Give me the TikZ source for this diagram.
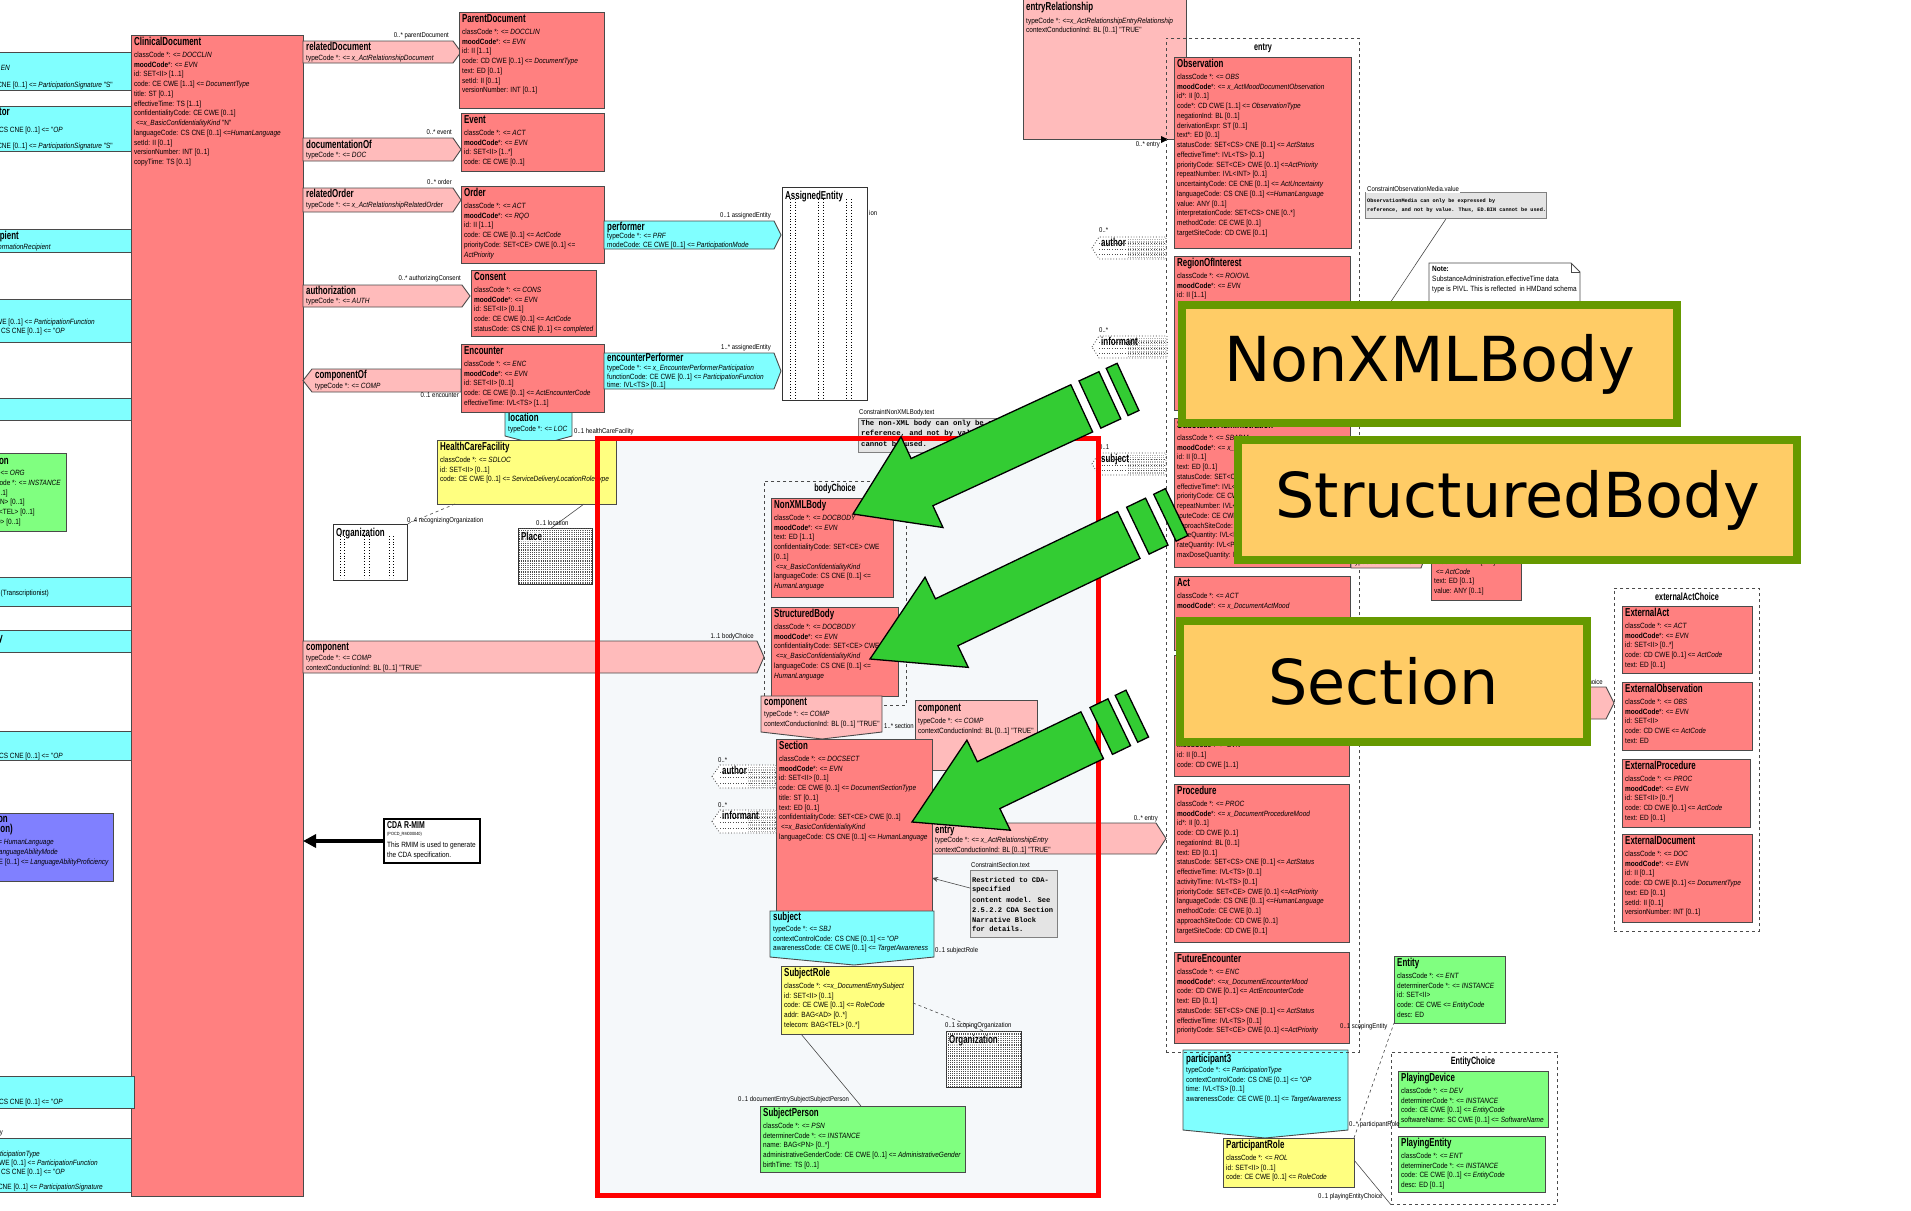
\documentclass[tikz,border=0pt]{standalone}
\usepackage{fontspec}
\setmainfont{Liberation Sans}
\newfontfamily\uf[FakeStretch=0.855]{Liberation Sans}
\newfontfamily\hf[FakeStretch=0.69]{Liberation Sans}
\newfontfamily\mf{Liberation Mono}
\newfontfamily\bigf{DejaVu Sans}
\usetikzlibrary{patterns,arrows.meta,calc}

\pgfdeclarepatternformonly{finedots}{\pgfqpoint{-0.6pt}{-0.6pt}}{\pgfqpoint{0.6pt}{0.6pt}}{\pgfqpoint{2.2pt}{2.2pt}}{%
  \pgfpathrectangle{\pgfqpoint{-0.55pt}{-0.55pt}}{\pgfqpoint{1.1pt}{1.1pt}}\pgfusepath{fill}}

\definecolor{actc}{HTML}{FF8080}
\definecolor{relc}{HTML}{FFBBBB}
\definecolor{cyanc}{HTML}{80FFFF}
\definecolor{yelc}{HTML}{FFFF80}
\definecolor{grnc}{HTML}{80FF80}
\definecolor{purc}{HTML}{8080FF}
\definecolor{lblc}{HTML}{FFCC66}
\definecolor{lblb}{HTML}{669900}
\definecolor{arrg}{HTML}{33CC33}
\definecolor{notec}{HTML}{E4E4E4}
\definecolor{framefill}{HTML}{F5F8FA}
\definecolor{bord}{HTML}{4A4A4A}

\tikzset{
  clsbox/.style={draw=bord, line width=0.9pt, anchor=north west, inner sep=0pt, outer sep=0pt},
  hdr/.style={anchor=west, inner sep=0pt, font=\hf\bfseries\fontsize{11.5}{12}\selectfont, text height=8.5pt, text depth=2.5pt},
  txt/.style={anchor=west, inner sep=0pt, font=\uf\fontsize{7.6}{9}\selectfont, text height=5.4pt, text depth=1.5pt},
  txte/.style={txt, anchor=east},
  mult/.style={inner sep=0pt, font=\uf\fontsize{7}{8}\selectfont, text height=5pt, text depth=1.4pt},
  relp/.style={draw=bord, line width=0.9pt, fill=relc},
  partp/.style={draw=bord, line width=0.9pt, fill=cyanc},
  choicebox/.style={draw=bord, dashed, line width=0.8pt, anchor=north west, inner sep=0pt},
  ctitle/.style={inner sep=0pt, font=\hf\bfseries\fontsize{10.5}{11}\selectfont},
  cmtbox/.style={draw=gray, fill=notec, line width=0.8pt, anchor=north west, inner sep=0pt},
  mono/.style={anchor=west, inner sep=0pt, font=\mf\bfseries\fontsize{7.3}{8}\selectfont},
  bigl/.style={draw=lblb, line width=8pt, fill=lblc, anchor=north west, inner sep=0pt},
  bigt/.style={font=\bigf\fontsize{62}{62}\selectfont, inner sep=0pt},
  garr/.style={fill=arrg, draw=black, line width=1.3pt, line join=miter},
  conn/.style={draw=bord, line width=0.6pt}
}

% class box: name, x1, y1, x2, y2, fill, title, attribute lines
\newcommand\cls[8]{%
  \node[clsbox, fill=#6, minimum width={(#4)-(#2)}, minimum height={(#5)-(#3)}] (#1) at (#2,#3) {};
  \node[hdr] (#1-h) at ({#2+3},{#3+7.5}) {#7};
  \foreach \tx [count=\i] in {#8}{\node[txt] (#1-\i) at ({#2+3},{#3+20.5+9.75*(\i-1)}) {\tx};}%
}
% box cut by the left page edge: name, y1, y2, x2, fill
\newcommand\lbox[5]{%
  \node[clsbox, fill=#5, minimum width={(#4)+4}, minimum height={(#3)-(#2)}] (#1) at (-4,#2) {};}
% entity shown only as a dotted placeholder: name, x1, y1, x2, y2, title
\newcommand\dent[6]{%
  \node[clsbox, draw=black!80, line width=0.7pt, fill=white, minimum width={(#4)-(#2)}, minimum height={(#5)-(#3)}] (#1) at (#2,#3) {};
  \foreach \fr in {0.1,0.16,0.43,0.49,0.76,0.82}{\draw[dotted, line width=0.8pt] ($(#1.north west)!\fr!(#1.north east)+(0,12)$) -- ($(#1.south west)!\fr!(#1.south east)+(0,-2)$);}
  \node[hdr] (#1-h) at ({#2+3},{#3+9}) {#6};}
% same with a dense dot fill
\newcommand\dden[6]{%
  \node[clsbox, draw=black!80, line width=0.7pt, fill=white, minimum width={(#4)-(#2)}, minimum height={(#5)-(#3)}] (#1) at (#2,#3) {};
  \fill[pattern=finedots, pattern color=black!70] (#1.north west) rectangle (#1.south east);
  \node[hdr, fill=white, fill opacity=0.6, text opacity=1] (#1-h) at ({#2+3},{#3+9}) {#6};}
% dotted participation stub pointing left: name, tip x, body x, right x, y1, y2, title
\newcommand\lpent[7]{%
  \draw[black!80, dotted, line width=0.8pt, fill=white] (#2,{(#5+#6)/2}) -- (#3,#5) -- (#4,#5) -- (#4,#6) -- (#3,#6) -- cycle;
  \fill[pattern=finedots, pattern color=black!35] ({#3+28},{#5+1}) rectangle ({#4-1},{#6-1});
  \foreach \fr in {0.3,0.55,0.8}{\draw[dotted, black!70, line width=0.6pt] (#3,{#5+\fr*(#6-#5)}) -- (#4,{#5+\fr*(#6-#5)});}
  \node[hdr] (#1) at ({#3+2},{#5+6}) {#7};}
% striped block arrow: tip x, tip y, angle, head length, shaft end, stripe 1, stripe 2
\newcommand\garrow[9]{%
  \begin{scope}[shift={(#1,#2)}, rotate=#3]
    \draw[garr] (0,0) -- (#4,50) -- (#4,26) -- (#5,26) -- (#5,-26) -- (#4,-26) -- (#4,-50) -- cycle;
    \draw[garr] (#6,26) rectangle (#7,-26);
    \draw[garr] (#8,26) rectangle (#9,-26);
  \end{scope}}

\begin{document}
\begin{tikzpicture}[x=1pt,y=-1pt]
\useasboundingbox (0,0) rectangle (1911,1210);
\fill[white] (0,0) rectangle (1911,1210);

% ---------- participations along the left edge ----------
\lbox{lpa}{52}{90}{131}{cyanc}
\node[txte] (lpa-1) at (10,69) {\textit{EN}};
\node[txte] (lpa-2) at (113,86) {signatureCode: CS CNE [0..1] <= \textit{ParticipationSignature} "S"};
\lbox{lpb}{106}{151}{131}{cyanc}
\node[hdr, anchor=east] (lpb-h) at (10,112) {authenticator};
\node[txte] (lpb-1) at (63,131) {contextControlCode: CS CNE [0..1] <= "\textit{OP}};
\node[txte] (lpb-2) at (113,147) {signatureCode: CS CNE [0..1] <= \textit{ParticipationSignature} "S"};
\lbox{lpc}{229}{252}{131}{cyanc}
\node[hdr, anchor=east] (lpc-h) at (19,236) {informationRecipient};
\node[txte] (lpc-1) at (51,248) {typeCode *: <= \textit{x\_InformationRecipient}};
\lbox{lpd}{299}{342}{131}{cyanc}
\node[txte] (lpd-1) at (95,323) {functionCode: CE CWE [0..1] <= \textit{ParticipationFunction}};
\node[txte] (lpd-2) at (65,332) {contextControlCode: CS CNE [0..1] <= "\textit{OP}};
\lbox{lpe}{398}{420}{131}{cyanc}
\lbox{lpf}{453}{531}{66}{grnc}
\node[hdr, anchor=east] (lpf-h) at (9,461) {Organization};
\node[txte] (lpf-1) at (25,474) {classCode *: <= \textit{ORG}};
\node[txte] (lpf-2) at (61,484) {determinerCode *: <= \textit{INSTANCE}};
\node[txte] (lpf-3) at (8,494) {id: SET<II> [0..1]};
\node[txte] (lpf-4) at (25,503) {name: BAG<ON> [0..1]};
\node[txte] (lpf-5) at (35,513) {telecom: BAG<TEL> [0..1]};
\node[txte] (lpf-6) at (21,523) {addr: BAG<AD> [0..1]};
\lbox{lpg}{577}{606}{131}{cyanc}
\node[txte] (lpg-1) at (49,594) {(Transcriptionist)};
\lbox{lph}{630}{652}{131}{cyanc}
\node[hdr, anchor=east] (lph-h) at (3,638) {custody};
\lbox{lpi}{731}{760}{131}{cyanc}
\node[txte] (lpi-1) at (63,757) {contextControlCode: CS CNE [0..1] <= "\textit{OP}};
\lbox{lpj}{813}{881}{113}{purc}
\node[hdr, anchor=east] (lpj-h) at (8,819) {languageCommunication};
\node[hdr, anchor=east] (lpj-h2) at (13,829) {(LanguageCommunication)};
\node[txte] (lpj-1) at (54,843) {languageCode: CS CNE [0..1] <= \textit{HumanLanguage}};
\node[txte] (lpj-2) at (58,853) {modeCode: CE CWE [0..1] <= \textit{LanguageAbilityMode}};
\node[txte] (lpj-3) at (109,863) {proficiencyLevelCode: CE CWE [0..1] <= \textit{LanguageAbilityProficiency}};
\node[mult, anchor=east] (lpk-m) at (3,1133) {responsibleParty};
\lbox{lpl}{1138}{1192}{131}{cyanc}
\node[txte] (lpl-1) at (40,1155) {typeCode *: <= \textit{ParticipationType}};
\node[txte] (lpl-2) at (98,1164) {functionCode: CE CWE [0..1] <= \textit{ParticipationFunction}};
\node[txte] (lpl-3) at (65,1173) {contextControlCode: CS CNE [0..1] <= "\textit{OP}};
\node[txte] (lpl-4) at (103,1188) {signatureCode: CS CNE [0..1] <= \textit{ParticipationSignature}};

% ---------- background of the highlighted body region ----------
\fill[framefill] (595,436) rectangle (1096,1193);

% ---------- ClinicalDocument ----------
\cls{cd}{131}{35}{303}{1196}{actc}{ClinicalDocument}{{classCode *: <= \textit{DOCCLIN}},{\textbf{moodCode}*: <= \textit{EVN}},{id: SET<II> [1..1]},{code: CE CWE [1..1] <= \textit{DocumentType}},{title: ST [0..1]},{effectiveTime: TS [1..1]},{confidentialityCode: CE CWE [0..1]},{\ <=\textit{x\_BasicConfidentialityKind} "N"},{languageCode: CS CNE [0..1] <=\textit{HumanLanguage}},{setId: II [0..1]},{versionNumber: INT [0..1]},{copyTime: TS [0..1]}}
\lbox{lpk}{1076}{1108}{134}{cyanc}
\node[txte] (lpk-1) at (63,1103) {contextControlCode: CS CNE [0..1] <= "\textit{OP}};

% ---------- act relationships to the right of ClinicalDocument ----------
\draw[relp] (303,41) -- (453,41) -- (461,52) -- (453,63) -- (303,63) -- cycle;
\node[hdr] (rdoc-h) at (306,47.5) {relatedDocument};
\node[txt] (rdoc-1) at (306,59) {typeCode *: <= \textit{x\_ActRelationshipDocument}};
\node[mult, anchor=east] (rdoc-m) at (449,36) {0..* parentDocument};

\draw[relp] (303,138) -- (453,138) -- (461,149.5) -- (453,161) -- (303,161) -- cycle;
\node[hdr] (docof-h) at (306,145) {documentationOf};
\node[txt] (docof-1) at (306,156) {typeCode *: <= \textit{DOC}};
\node[mult, anchor=east] (docof-m) at (452,133) {0..* event};

\draw[relp] (303,188) -- (453,188) -- (461,200) -- (453,212) -- (303,212) -- cycle;
\node[hdr] (rord-h) at (306,194) {relatedOrder};
\node[txt] (rord-1) at (306,206) {typeCode *: <= \textit{x\_ActRelationshipRelatedOrder}};
\node[mult, anchor=east] (rord-m) at (452,183) {0..* order};

\draw[relp] (303,285) -- (462,285) -- (470,296) -- (462,307) -- (303,307) -- cycle;
\node[hdr] (auth-h) at (306,291) {authorization};
\node[txt] (auth-1) at (306,302) {typeCode *: <= \textit{AUTH}};
\node[mult, anchor=east] (auth-m) at (461,279) {0..* authorizingConsent};

\draw[relp] (303,380.5) -- (312,369) -- (461,369) -- (461,392) -- (312,392) -- cycle;
\node[hdr] (cof-h) at (315,375) {componentOf};
\node[txt] (cof-1) at (315,387) {typeCode *: <= \textit{COMP}};
\node[mult, anchor=east] (cof-m) at (459,396) {0..1 encounter};

\cls{pdoc}{459}{12}{604}{108}{actc}{ParentDocument}{{classCode *: <= \textit{DOCCLIN}},{\textbf{moodCode}*: <= \textit{EVN}},{id: II [1..1]},{code: CD CWE [0..1] <= \textit{DocumentType}},{text: ED [0..1]},{setId: II [0..1]},{versionNumber: INT [0..1]}}
\cls{event}{461}{113}{604}{171}{actc}{Event}{{classCode *: <= \textit{ACT}},{\textbf{moodCode}*: <= \textit{EVN}},{id: SET<II> [1..*]},{code: CE CWE [0..1]}}
\cls{order}{461}{186}{604}{263}{actc}{Order}{{classCode *: <= \textit{ACT}},{\textbf{moodCode}*: <= \textit{RQO}},{id: II [1..1]},{code: CE CWE [0..1] <= \textit{ActCode}},{priorityCode: SET<CE> CWE [0..1] <=},{\textit{ActPriority}}}
\cls{consent}{471}{270}{596}{336}{actc}{Consent}{{classCode *: <= \textit{CONS}},{\textbf{moodCode}*: <= \textit{EVN}},{id: SET<II> [0..1]},{code: CE CWE [0..1] <= \textit{ActCode}},{statusCode: CS CNE [0..1] <= \textit{completed}}}

% location participation below Encounter
\draw[partp] (505,412) -- (572,412) -- (572,436) -- (539,445) -- (505,436) -- cycle;
\node[hdr] (loc-h) at (508,418) {location};
\node[txt] (loc-1) at (508,430) {typeCode *: <= \textit{LOC}};
\node[mult, anchor=west] (loc-m) at (574,432) {0..1 healthCareFacility};

\cls{enc}{461}{344}{604}{412}{actc}{Encounter}{{classCode *: <= \textit{ENC}},{\textbf{moodCode}*: <= \textit{EVN}},{id: SET<II> [0..1]},{code: CE CWE [0..1] <= \textit{ActEncounterCode}},{effectiveTime: IVL<TS> [1..1]}}

% performer participations
\draw[partp] (604,221) -- (774,221) -- (781,235) -- (774,249) -- (604,249) -- cycle;
\node[hdr] (perf-h) at (607,227) {performer};
\node[txt] (perf-1) at (607,237) {typeCode *: <= \textit{PRF}};
\node[txt] (perf-2) at (607,246) {modeCode: CE CWE [0..1] <= \textit{ParticipationMode}};
\node[mult, anchor=east] (perf-m) at (771,216) {0..1 assignedEntity};

\draw[partp] (604,353) -- (774,353) -- (781,371) -- (774,389) -- (604,389) -- cycle;
\node[hdr] (eperf-h) at (607,358.5) {encounterPerformer};
\node[txt] (eperf-1) at (607,369) {typeCode *: <= \textit{x\_EncounterPerformerParticipation}};
\node[txt] (eperf-2) at (607,377.5) {functionCode: CE CWE [0..1] <= \textit{ParticipationFunction}};
\node[txt] (eperf-3) at (607,386) {time: IVL<TS> [0..1]};
\node[mult, anchor=east] (eperf-m) at (771,348) {1..* assignedEntity};

\dent{asgn}{782}{187}{867}{400}{AssignedEntity}
\node[mult, anchor=west] (asgn-x) at (869,214) {ion};

% health care facility and its roles
\cls{hcf}{437}{440}{616}{504}{yelc}{HealthCareFacility}{{classCode *: <= \textit{SDLOC}},{id: SET<II> [0..1]},{code: CE CWE [0..1] <= \textit{ServiceDeliveryLocationRoleType}}}
\dent{org1}{333}{524}{407}{580}{Organization}
\dden{place}{518}{528}{592}{584}{Place}
\draw[conn, dashed] ($(hcf.south west)+(18,0)$) -- (org1.north east);
\draw[conn] ($(hcf.south east)+(-32,0)$) -- ($(place.north west)!0.45!(place.north east)$);
\node[mult, anchor=west] (org1-m) at (407,521) {0..4 recognizingOrganization};
\node[mult, anchor=west] (place-m) at (536,524) {0..1 location};

% component to the body choice
\draw[relp] (303,641) -- (757,641) -- (764,657) -- (757,673) -- (303,673) -- cycle;
\node[hdr] (comp-h) at (306,647) {component};
\node[txt] (comp-1) at (306,659) {typeCode *: <= \textit{COMP}};
\node[txt] (comp-2) at (306,669) {contextConductionInd: BL [0..1] "TRUE"};
\node[mult, anchor=east] (comp-m) at (754,637) {1..1 bodyChoice};

% R-MIM caption box
\node[clsbox, draw=black, line width=1.2pt, fill=white, minimum width=96, minimum height=44] (rmim) at (384,819) {};
\node[hdr, font=\hf\bfseries\fontsize{10}{11}\selectfont] (rmim-h) at (387,825) {CDA R-MIM};
\node[mult, anchor=west, font=\uf\fontsize{4.5}{5}\selectfont] (rmim-1) at (387,834) {(POCD\_RM000040)};
\node[txt] (rmim-2) at (387,846) {This RMIM is used to generate};
\node[txt] (rmim-3) at (387,856) {the CDA specification.};
\draw[line width=4pt, -{Triangle[length=13pt,width=13pt]}] (rmim.west) -- (rmim.west -| cd.east);

% ---------- body choice, section and its neighbours ----------
\node[choicebox, minimum width=142, minimum height=224] (bodych) at (764,481) {};
\node[ctitle] (bodych-t) at (835,489) {bodyChoice};
\cls{nxb}{771}{498}{893}{597}{actc}{NonXMLBody}{{classCode *: <= \textit{DOCBODY}},{\textbf{moodCode}*: <= \textit{EVN}},{text: ED [1..1]},{confidentialityCode: SET<CE> CWE},{[0..1]},{\ <=\textit{x\_BasicConfidentialityKind}},{languageCode: CS CNE [0..1] <=},{\textit{HumanLanguage}}}
\cls{stb}{771}{607}{898}{696}{actc}{StructuredBody}{{classCode *: <= \textit{DOCBODY}},{\textbf{moodCode}*: <= \textit{EVN}},{confidentialityCode: SET<CE> CWE},{\ <=\textit{x\_BasicConfidentialityKind}},{languageCode: CS CNE [0..1] <=},{\textit{HumanLanguage}}}

\draw[relp] (761,696) -- (882,696) -- (882,732) -- (822,739) -- (761,732) -- cycle;
\node[hdr] (scomp-h) at (764,702) {component};
\node[txt] (scomp-1) at (764,715) {typeCode *: <= \textit{COMP}};
\node[txt] (scomp-2) at (764,725) {contextConductionInd: BL [0..1] "TRUE"};
\node[mult, anchor=west] (scomp-m) at (884,727) {1..* section};

\node[clsbox, fill=relc, minimum width=122, minimum height=70] (ncomp) at (915,700) {};
\node[hdr] (ncomp-h) at (918,708) {component};
\node[txt] (ncomp-1) at (918,722) {typeCode *: <= \textit{COMP}};
\node[txt] (ncomp-2) at (918,732) {contextConductionInd: BL [0..1] "TRUE"};

\draw[relp] (932,823) -- (1156,823) -- (1166,838.5) -- (1156,854) -- (932,854) -- cycle;
\node[hdr] (sentry-h) at (935,830) {entry};
\node[txt] (sentry-1) at (935,841) {typeCode *: <= \textit{x\_ActRelationshipEntry}};
\node[txt] (sentry-2) at (935,851) {contextConductionInd: BL [0..1] "TRUE"};
\node[mult, anchor=east] (sentry-m) at (1158,819) {0..* entry};

\cls{section}{776}{739}{932}{911}{actc}{Section}{{classCode *: <= \textit{DOCSECT}},{\textbf{moodCode}*: <= \textit{EVN}},{id: SET<II> [0..1]},{code: CE CWE [0..1] <= \textit{DocumentSectionType}},{title: ST [0..1]},{text: ED [0..1]},{confidentialityCode: SET<CE> CWE [0..1]},{\ <=\textit{x\_BasicConfidentialityKind}},{languageCode: CS CNE [0..1] <= \textit{HumanLanguage}}}

\lpent{sauth}{712}{720}{776}{765}{788}{author}
\node[mult, anchor=west] (sauth-m) at (718,761) {0..*};
\lpent{sinf}{712}{720}{776}{810}{833}{informant}
\node[mult, anchor=west] (sinf-m) at (718,806) {0..*};

\node[cmtbox, minimum width=87, minimum height=67] (csnote) at (970,870) {};
\node[mult, anchor=west] (csnote-t) at (971,866) {ConstraintSection.text};
\node[mono, font=\mf\bfseries\fontsize{7.1}{8}\selectfont] (csnote-1) at (972,880) {Restricted to CDA-};
\node[mono, font=\mf\bfseries\fontsize{7.1}{8}\selectfont] (csnote-2) at (972,890) {specified};
\node[mono, font=\mf\bfseries\fontsize{7.1}{8}\selectfont] (csnote-3) at (972,899.5) {content model. See};
\node[mono, font=\mf\bfseries\fontsize{7.1}{8}\selectfont] (csnote-4) at (972,909.5) {2.5.2.2 CDA Section};
\node[mono, font=\mf\bfseries\fontsize{7.1}{8}\selectfont] (csnote-5) at (972,919.5) {Narrative Block};
\node[mono, font=\mf\bfseries\fontsize{7.1}{8}\selectfont] (csnote-6) at (972,929) {for details.};
\draw[conn, -{Stealth[length=6pt,width=5pt]}] ($(csnote.north west)+(0,18)$) -- ($(section.north east)+(0,139)$);

\draw[partp] (770,911) -- (934,911) -- (934,957) -- (854,965) -- (770,957) -- cycle;
\node[hdr] (subj-h) at (773,917) {subject};
\node[txt] (subj-1) at (773,930) {typeCode *: <= \textit{SBJ}};
\node[txt] (subj-2) at (773,940) {contextControlCode: CS CNE [0..1] <= "\textit{OP}};
\node[txt] (subj-3) at (773,949) {awarenessCode: CE CWE [0..1] <= \textit{TargetAwareness}};
\node[mult, anchor=west] (subj-m) at (935,951) {0..1 subjectRole};

\cls{subrole}{781}{966}{913}{1034}{yelc}{SubjectRole}{{classCode *: <=\textit{x\_DocumentEntrySubject}},{id: SET<II> [0..1]},{code: CE CWE [0..1] <= \textit{RoleCode}},{addr: BAG<AD> [0..*]},{telecom: BAG<TEL> [0..*]}}
\dden{org2}{946}{1031}{1021}{1087}{Organization}
\draw[conn, dashed] ($(subrole.north east)+(0,37)$) -- ($(org2.north west)!0.5!(org2.north east)$);
\node[mult, anchor=west] (org2-m) at (945,1026) {0..1 scopingOrganization};
\cls{subper}{760}{1106}{965}{1172}{grnc}{SubjectPerson}{{classCode *: <= \textit{PSN}},{determinerCode *: <= \textit{INSTANCE}},{name: BAG<PN> [0..*]},{administrativeGenderCode: CE CWE [0..1] <= \textit{AdministrativeGender}},{birthTime: TS [0..1]}}
\draw[conn] ($(subrole.south west)+(20,0)$) -- ($(subper.north west)+(101,0)$);
\node[mult, anchor=west] (subper-m) at (738,1100) {0..1 documentEntrySubjectSubjectPerson};

% constraint on the non-XML body
\node[cmtbox, minimum width=152, minimum height=34] (cnx) at (858,418) {};
\node[mult, anchor=west] (cnx-t) at (859,413) {ConstraintNonXMLBody.text};
\node[mono] (cnx-1) at (861,424) {The non-XML body can only be a};
\node[mono] (cnx-2) at (861,434) {reference, and not by value.};
\node[mono] (cnx-3) at (861,443.5) {cannot be used.};

% ---------- entry choice ----------
\node[clsbox, fill=relc, minimum width=163, minimum height=142] (entrel) at (1023,-3) {};
\node[hdr] (entrel-h) at (1026,7) {entryRelationship};
\node[txt] (entrel-1) at (1026,22) {typeCode *: <=\textit{x\_ActRelationshipEntryRelationship}};
\node[txt] (entrel-2) at (1026,31) {contextConductionInd: BL [0..1] "TRUE"};
\node[mult, anchor=east] (entrel-m) at (1160,145) {0..* entry};
\fill (1161,136) -- (1168,139.5) -- (1161,143) -- cycle;

\draw[partp] (1183,1050) -- (1348,1050) -- (1348,1130) -- (1265,1138) -- (1183,1130) -- cycle;
\node[hdr] (part3-h) at (1186,1059) {participant3};
\node[txt] (part3-1) at (1186,1071) {typeCode *: <= \textit{ParticipationType}};
\node[txt] (part3-2) at (1186,1080.5) {contextControlCode: CS CNE [0..1] <= "\textit{OP}};
\node[txt] (part3-3) at (1186,1090) {time: IVL<TS> [0..1]};
\node[txt] (part3-4) at (1186,1099.5) {awarenessCode: CE CWE [0..1] <= \textit{TargetAwareness}};

\node[choicebox, minimum width=193, minimum height=1014] (entrybox) at (1166,38) {};
\node[ctitle] (entrybox-t) at (1263,48) {entry};
\cls{obs}{1174}{57}{1351}{248}{actc}{Observation}{{classCode *: <= \textit{OBS}},{\textbf{moodCode}*: <= \textit{x\_ActMoodDocumentObservation}},{id*: II [0..1]},{code*: CD CWE [1..1] <= \textit{ObservationType}},{negationInd: BL [0..1]},{derivationExpr: ST [0..1]},{text*: ED [0..1]},{statusCode: SET<CS> CNE [0..1] <= \textit{ActStatus}},{effectiveTime*: IVL<TS> [0..1]},{priorityCode: SET<CE> CWE [0..1] <=\textit{ActPriority}},{repeatNumber: IVL<INT> [0..1]},{uncertaintyCode: CE CNE [0..1] <= \textit{ActUncertainty}},{languageCode: CS CNE [0..1] <=\textit{HumanLanguage}},{value: ANY [0..1]},{interpretationCode: SET<CS> CNE [0..*]},{methodCode: CE CWE [0..1]},{targetSiteCode: CD CWE [0..1]}}
\cls{roi}{1174}{256}{1350}{410}{actc}{RegionOfInterest}{{classCode *: <= \textit{ROIOVL}},{\textbf{moodCode}*: <= \textit{EVN}},{id: II [1..1]}}
\cls{sbadm}{1174}{418}{1350}{567}{actc}{SubstanceAdministration}{{classCode *: <= \textit{SBADM}},{\textbf{moodCode}*: <= \textit{x\_DocumentSubstanceMood}},{id: II [0..1]},{text: ED [0..1]},{statusCode: SET<CS> CNE [0..1] <= \textit{ActStatus}},{effectiveTime*: IVL<TS> [0..1]},{priorityCode: CE CWE [0..1] <= \textit{ActPriority}},{repeatNumber: IVL<INT> [0..1]},{routeCode: CE CWE [0..1] <= \textit{RouteOfAdministration}},{approachSiteCode: CD CWE [0..1]},{doseQuantity: IVL<PQ> [0..1]},{rateQuantity: IVL<PQ> [0..1]},{maxDoseQuantity: RTO<PQ,PQ> [0..1]}}
\cls{act}{1174}{576}{1350}{650}{actc}{Act}{{classCode *: <= \textit{ACT}},{\textbf{moodCode}*: <= \textit{x\_DocumentActMood}}}
\node[clsbox, fill=actc, minimum width=175, minimum height=121] (orgz) at (1174,655) {};
\node[txt] (orgz-1) at (1177,746) {\textbf{moodCode}*: <= \textit{EVN}};
\node[txt] (orgz-2) at (1177,756) {id: II [0..1]};
\node[txt] (orgz-3) at (1177,766) {code: CD CWE [1..1]};
\cls{proc}{1174}{784}{1349}{942}{actc}{Procedure}{{classCode *: <= \textit{PROC}},{\textbf{moodCode}*: <= \textit{x\_DocumentProcedureMood}},{id*: II [0..1]},{code: CD CWE [0..1]},{negationInd: BL [0..1]},{text: ED [0..1]},{statusCode: SET<CS> CNE [0..1] <= \textit{ActStatus}},{effectiveTime: IVL<TS> [0..1]},{activityTime: IVL<TS> [0..1]},{priorityCode: SET<CE> CWE [0..1] <=\textit{ActPriority}},{languageCode: CS CNE [0..1] <=\textit{HumanLanguage}},{methodCode: CE CWE [0..1]},{approachSiteCode: CD CWE [0..1]},{targetSiteCode: CD CWE [0..1]}}
\cls{fenc}{1174}{952}{1349}{1043}{actc}{FutureEncounter}{{classCode *: <= \textit{ENC}},{\textbf{moodCode}*: <=\textit{x\_DocumentEncounterMood}},{code: CD CWE [0..1] <= \textit{ActEncounterCode}},{text: ED [0..1]},{statusCode: SET<CS> CNE [0..1] <= \textit{ActStatus}},{effectiveTime: IVL<TS> [0..1]},{priorityCode: SET<CE> CWE [0..1] <=\textit{ActPriority}}}

\lpent{eauth}{1092}{1099}{1166}{237}{259}{author}
\node[mult, anchor=west] (eauth-m) at (1099,231) {0..*};
\lpent{einf}{1092}{1099}{1167}{336}{358}{informant}
\node[mult, anchor=west] (einf-m) at (1099,331) {0..*};
\lpent{esubj}{1092}{1099}{1166}{453}{475}{subject}
\node[mult, anchor=west] (esubj-m) at (1099,448) {0..1};

% precondition and criterion next to the substance administration
\draw[relp] (1351,530) -- (1421,530) -- (1428,549) -- (1421,568) -- (1351,568) -- cycle;
\node[txt] (prcn-1) at (1353,563) {typeCode *: <= \textit{PRCN}};
\node[clsbox, fill=actc, minimum width=90, minimum height=80] (crit) at (1431,520) {};
\node[txt] (crit-1) at (1434,563) {code: CD CWE [0..1]};
\node[txt] (crit-2) at (1434,572.5) {\ <= \textit{ActCode}};
\node[txt] (crit-3) at (1434,582) {text: ED [0..1]};
\node[txt] (crit-4) at (1434,592) {value: ANY [0..1]};

% constraint notes on the right
\node[cmtbox, minimum width=181, minimum height=26] (comnote) at (1365,192) {};
\node[mult, anchor=west, fill=white, inner xsep=1pt] (comnote-t) at (1366,190) {ConstraintObservationMedia.value};
\node[mono, font=\mf\bfseries\fontsize{5.2}{6}\selectfont] (comnote-1) at (1367,201) {ObservationMedia can only be expressed by};
\node[mono, font=\mf\bfseries\fontsize{5.2}{6}\selectfont] (comnote-2) at (1367,210) {reference, and not by value. Thus, ED.BIN cannot be used.};
\coordinate (obsmedia) at (1372,330);
\draw[conn] ($(comnote.south west)+(81,0)$) -- (obsmedia);

\draw[draw=bord, line width=0.8pt, fill=white] (1429,263) -- (1571,263) -- (1580,272) -- (1580,330) -- (1429,330) -- cycle;
\draw[draw=bord, line width=0.6pt] (1571,263) -- (1571,272) -- (1580,272);
\node[txt, font=\uf\bfseries\fontsize{7.6}{9}\selectfont] (note-h) at (1432,269.5) {Note:};
\node[txt] (note-1) at (1432,279.5) {SubstanceAdministration.effectiveTime data};
\node[txt] (note-2) at (1432,289.5) {type is PIVL. This is reflected\ \ in HMDand schema};

% external act choice
\draw[relp] (1560,687) -- (1606,687) -- (1614,703) -- (1606,719) -- (1560,719) -- cycle;
\node[mult, anchor=east] (extref-m) at (1603,683) {1..1 externalActChoice};
\node[choicebox, minimum width=145, minimum height=343] (extch) at (1614,588) {};
\node[ctitle] (extch-t) at (1687,597) {externalActChoice};
\cls{extact}{1622}{606}{1752}{673}{actc}{ExternalAct}{{classCode *: <= \textit{ACT}},{\textbf{moodCode}*: <= \textit{EVN}},{id: SET<II> [0..*]},{code: CD CWE [0..1] <= \textit{ActCode}},{text: ED [0..1]}}
\cls{extobs}{1622}{682}{1752}{750}{actc}{ExternalObservation}{{classCode *: <= \textit{OBS}},{\textbf{moodCode}*: <= \textit{EVN}},{id: SET<II>},{code: CD CWE <= \textit{ActCode}},{text: ED}}
\cls{extproc}{1622}{759}{1750}{827}{actc}{ExternalProcedure}{{classCode *: <= \textit{PROC}},{\textbf{moodCode}*: <= \textit{EVN}},{id: SET<II> [0..*]},{code: CD CWE [0..1] <= \textit{ActCode}},{text: ED [0..1]}}
\cls{extdoc}{1622}{834}{1752}{922}{actc}{ExternalDocument}{{classCode *: <= \textit{DOC}},{\textbf{moodCode}*: <= \textit{EVN}},{id: II [0..1]},{code: CD CWE [0..1] <= \textit{DocumentType}},{text: ED [0..1]},{setId: II [0..1]},{versionNumber: INT [0..1]}}

% participant role and entities
\cls{prole}{1223}{1138}{1354}{1187}{yelc}{ParticipantRole}{{classCode *: <= \textit{ROL}},{id: SET<II> [0..1]},{code: CE CWE [0..1] <= \textit{RoleCode}}}
\cls{entity}{1394}{956}{1505}{1023}{grnc}{Entity}{{classCode *: <= \textit{ENT}},{determinerCode *: <= \textit{INSTANCE}},{id: SET<II>},{code: CE CWE <= \textit{EntityCode}},{desc: ED}}
\node[choicebox, minimum width=166, minimum height=152] (entch) at (1391,1052) {};
\node[ctitle] (entch-t) at (1473,1062) {EntityChoice};
\cls{pdev}{1398}{1071}{1548}{1127}{grnc}{PlayingDevice}{{classCode *: <= \textit{DEV}},{determinerCode *: <= \textit{INSTANCE}},{code: CE CWE [0..1] <= \textit{EntityCode}},{softwareName: SC CWE [0..1] <= \textit{SoftwareName}}}
\cls{pent}{1398}{1136}{1545}{1192}{grnc}{PlayingEntity}{{classCode *: <= \textit{ENT}},{determinerCode *: <= \textit{INSTANCE}},{code: CE CWE [0..1] <= \textit{EntityCode}},{desc: ED [0..1]}}
\draw[conn, dashed] (prole.north east) -- (entity.south west);
\draw[conn] ($(prole.north east)+(0,22)$) -- (entch.south west);
\node[mult, anchor=west] (entity-m) at (1340,1027) {0..1 scopingEntity};
\node[mult, anchor=west] (prole-m) at (1349,1125) {0..* participantRole};
\node[mult, anchor=west] (entch-m) at (1318,1197) {0..1 playingEntityChoice};

% ---------- highlight frame ----------
\node[draw=red, line width=5pt, anchor=north west, inner sep=0pt, minimum width=501, minimum height=757] (redframe) at (595,436) {};

% ---------- pointer arrows ----------
\garrow{853}{514}{24.8}{76}{252}{261}{283}{291}{303}
\garrow{870}{659}{25.6}{85}{287}{297}{318}{327}{340}
\garrow{912}{822}{25.7}{85}{200}{210}{230}{238}{250}

% ---------- callout labels ----------
\node[bigl, minimum width=495, minimum height=118] (lblnx) at (1178,301) {};
\node[bigt] (lblnx-t) at (lblnx.center) {NonXMLBody};
\node[bigl, minimum width=559, minimum height=120] (lblsb) at (1234,436) {};
\node[bigt] (lblsb-t) at (lblsb.center) {StructuredBody};
\node[bigl, minimum width=407, minimum height=121] (lblsec) at (1176,617) {};
\node[bigt] (lblsec-t) at (lblsec.center) {Section};
\end{tikzpicture}
\end{document}
